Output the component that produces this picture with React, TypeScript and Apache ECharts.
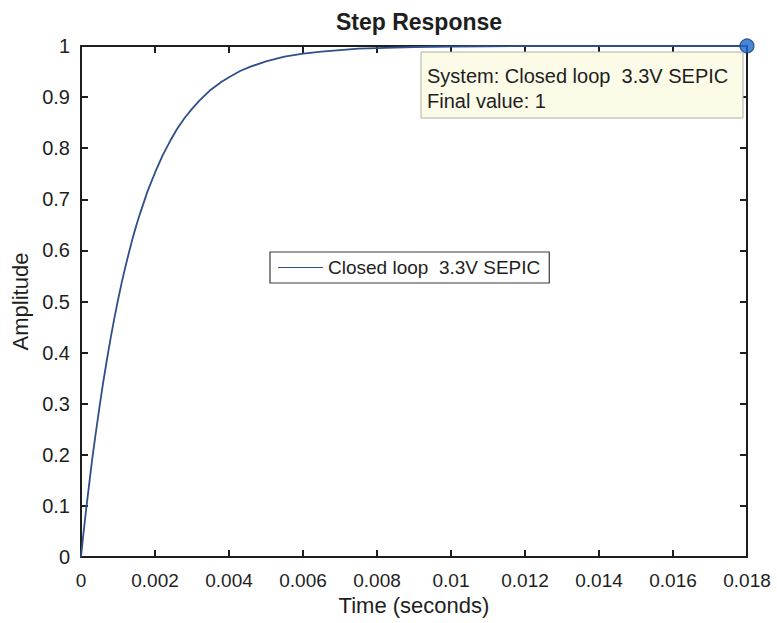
import React, { useEffect, useRef } from "react";
import * as echarts from "echarts";

const timeValues = [0, 0.00005, 0.0001, 0.00015, 0.0002, 0.0003, 0.0004, 0.0005, 0.0006, 0.0007, 0.0008, 0.0009, 0.001, 0.0011, 0.0012, 0.0013, 0.0014, 0.0015, 0.0016, 0.0018, 0.002, 0.0022, 0.0024, 0.0026, 0.0028, 0.003, 0.0032, 0.0035, 0.0038, 0.004, 0.0043, 0.0046, 0.005, 0.0055, 0.006, 0.0065, 0.007, 0.0075, 0.008, 0.009, 0.01, 0.011, 0.012, 0.014, 0.016, 0.018];
const amplitudeValues = [0, 0.035, 0.068, 0.1, 0.13, 0.19, 0.243, 0.294, 0.342, 0.386, 0.428, 0.467, 0.503, 0.537, 0.568, 0.597, 0.625, 0.65, 0.673, 0.716, 0.752, 0.785, 0.813, 0.838, 0.859, 0.877, 0.893, 0.914, 0.93, 0.939, 0.951, 0.96, 0.97, 0.979, 0.985, 0.989, 0.992, 0.995, 0.996, 0.998, 0.999, 0.9995, 1.0, 1.0, 1.0, 1.0];
const finalPoint = [0.018, 1];
const seriesName = "Closed loop  3.3V SEPIC";
const xTicks = ["0", "0.002", "0.004", "0.006", "0.008", "0.01", "0.012", "0.014", "0.016", "0.018"];

const FONT = "Liberation Sans, Arial, Helvetica, sans-serif";
const INK = "#1e1e1e";

export default function App() {
  const ref = useRef<HTMLDivElement>(null);
  useEffect(() => {
    document.body.style.margin = "0";
    if (!ref.current) return;
    const chart = echarts.init(ref.current, undefined, { renderer: "svg" });
    const mkLine = () => ({ show: true, onZero: false, lineStyle: { color: INK, width: 2 } });
    const mkTick = () => ({ show: true, inside: true, length: 7, lineStyle: { color: INK, width: 2 } });
    chart.setOption({
      animation: false,
      backgroundColor: "#ffffff",
      textStyle: { fontFamily: FONT },
      title: {
        text: "Step Response",
        left: 414,
        top: 5,
        textAlign: "center",
        textStyle: { fontSize: 23, fontWeight: "bold", color: INK, fontFamily: FONT },
      },
      legend: {
        left: 270,
        top: 252,
        orient: "horizontal",
        data: [{ name: seriesName, icon: "rect" }],
        itemWidth: 45,
        itemHeight: 1.2,
        itemGap: 6,
        padding: [6, 9, 6, 8],
        borderColor: "#3a3a3a",
        borderWidth: 1.2,
        backgroundColor: "#ffffff",
        textStyle: { fontSize: 19, color: INK, fontFamily: FONT },
        selectedMode: false,
      },
      grid: { left: 81, right: 30, top: 46, bottom: 66, containLabel: false },
      xAxis: [
        {
          type: "value",
          min: 0,
          max: 0.018,
          interval: 0.002,
          position: "bottom",
          name: "Time (seconds)",
          nameLocation: "middle",
          nameGap: 34,
          nameTextStyle: { fontSize: 22, color: INK, fontFamily: FONT },
          axisLine: mkLine(),
          axisTick: mkTick(),
          splitLine: { show: false },
          axisLabel: {
            fontSize: 19,
            color: INK,
            margin: 14,
            formatter: (v: number) => {
              const i = Math.round(v / 0.002);
              return xTicks[i] ?? "";
            },
          },
        },
        {
          type: "value",
          min: 0,
          max: 0.018,
          interval: 0.002,
          position: "top",
          axisLine: mkLine(),
          axisTick: mkTick(),
          splitLine: { show: false },
          axisLabel: { show: false },
        },
      ],
      yAxis: [
        {
          type: "value",
          min: 0,
          max: 1,
          interval: 0.1,
          position: "left",
          name: "Amplitude",
          nameLocation: "middle",
          nameGap: 48,
          nameRotate: 90,
          nameTextStyle: { fontSize: 22, color: INK, fontFamily: FONT },
          axisLine: mkLine(),
          axisTick: mkTick(),
          splitLine: { show: false },
          axisLabel: {
            fontSize: 20,
            color: INK,
            margin: 11,
            formatter: (v: number) => String(Math.round(v * 10) / 10),
          },
        },
        {
          type: "value",
          min: 0,
          max: 1,
          interval: 0.1,
          position: "right",
          axisLine: mkLine(),
          axisTick: mkTick(),
          splitLine: { show: false },
          axisLabel: { show: false },
        },
      ],
      series: [
        {
          name: seriesName,
          type: "line",
          data: timeValues.map((t, i) => [t, amplitudeValues[i]]),
          showSymbol: false,
          symbol: "none",
          smooth: false,
          lineStyle: { color: "#2f4f8a", width: 1.8 },
          itemStyle: { color: "#2f4f8a" },
        },
        {
          name: "final",
          type: "scatter",
          data: [finalPoint],
          symbol: "circle",
          symbolSize: 14,
          clip: false,
          z: 10,
          itemStyle: { color: "#1a68c8", borderColor: "#0e3d7a", borderWidth: 1.2 },
        },
      ],
      graphic: [
        {
          type: "rect",
          shape: { x: 421, y: 52, width: 322, height: 66 },
          style: { fill: "#fbfbe8", stroke: "#b0b0a8", lineWidth: 1 },
          z: 20,
        },
        {
          type: "text",
          x: 427,
          y: 76,
          style: {
            text: "System: Closed loop  3.3V SEPIC",
            fontSize: 20,
            fontFamily: FONT,
            fill: INK,
            verticalAlign: "middle",
          },
          z: 21,
        },
        {
          type: "text",
          x: 427,
          y: 101,
          style: {
            text: "Final value: 1",
            fontSize: 20,
            fontFamily: FONT,
            fill: INK,
            verticalAlign: "middle",
          },
          z: 21,
        },
      ],
    });
    return () => chart.dispose();
  }, []);
  return <div ref={ref} style={{ width: 777, height: 623 }} />;
}
